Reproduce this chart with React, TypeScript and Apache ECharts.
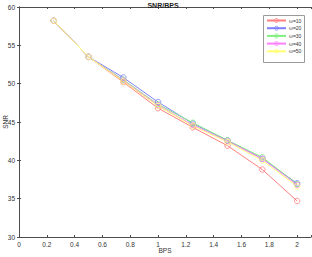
import React, { useEffect, useRef } from "react";
import * as echarts from "echarts";

const bps = [0.25, 0.5, 0.75, 1, 1.25, 1.5, 1.75, 2];
const seriesNames = ["ω=10", "ω=20", "ω=30", "ω=40", "ω=50"];
const snr10 = [58.2, 53.5, 50.2, 46.8, 44.3, 41.9, 38.8, 34.7];
const snr20 = [58.2, 53.5, 50.8, 47.6, 44.8, 42.6, 40.2, 37.0];
const snr30 = [58.2, 53.5, 50.5, 47.3, 44.9, 42.6, 40.4, 36.9];
const snr40 = [58.2, 53.5, 50.4, 47.2, 44.6, 42.5, 40.2, 36.8];
const snr50 = [58.2, 53.5, 50.3, 47.1, 44.5, 42.4, 40.0, 36.6];
const allSeries = [snr10, snr20, snr30, snr40, snr50];
const colors = ["#ff7f7f", "#7f7fff", "#7fef7f", "#ff7fff", "#ffff70"];

export default function App() {
  const ref = useRef<HTMLDivElement>(null);
  useEffect(() => {
    if (!ref.current) return;
    const chart = echarts.init(ref.current, null, { renderer: "svg" });
    const axisColor = "#4d4d4d";
    const font = "Liberation Sans, Arial, sans-serif";
    chart.setOption({
      animation: false,
      backgroundColor: "#ffffff",
      title: {
        text: "SNR/BPS",
        left: 158,
        top: -3,
        textAlign: "center",
        textStyle: { fontSize: 7, fontWeight: "bold", color: "#222", fontFamily: font },
      },
      grid: {
        left: 19,
        right: 1,
        top: 7,
        bottom: 20,
        containLabel: false,
        outerBoundsMode: "none",
      },
      graphic: [
        {
          type: "rect",
          z: 3,
          shape: { x: 263.5, y: 15.5, width: 41, height: 47 },
          style: { fill: "#ffffff", stroke: "#9a9a9a", lineWidth: 1 },
        },
      ],
      legend: {
        orient: "vertical",
        left: 264,
        top: 16,
        z: 5,
        data: seriesNames,
        itemWidth: 19,
        itemHeight: 5,
        itemGap: 2.7,
        padding: [2, 2, 2, 2],
        borderWidth: 0,
        itemStyle: { color: "rgba(255,255,255,0)", borderWidth: 0.8 },
        textStyle: { fontSize: 5, color: "#333", fontFamily: font, padding: [0, 0, 0, -2] },
      },
      xAxis: [
        {
          type: "value",
          min: 0,
          max: 2.1,
          interval: 0.2,
          name: "BPS",
          nameLocation: "middle",
          nameGap: 10,
          nameMoveOverlap: false,
          nameTextStyle: { fontSize: 6.5, color: "#333", fontFamily: font },
          axisLine: { show: true, lineStyle: { color: axisColor, width: 1 } },
          axisTick: { show: true, inside: true, length: 2, lineStyle: { color: axisColor } },
          axisLabel: {
            fontSize: 6.5,
            color: "#333",
            margin: 4,
            fontFamily: font,
            formatter: (v: number) => (v > 2.05 ? "" : String(Math.round(v * 10) / 10)),
          },
          splitLine: { show: false },
        },
        {
          type: "value",
          position: "top",
          min: 0,
          max: 2.1,
          interval: 0.2,
          axisLine: { show: true, lineStyle: { color: axisColor, width: 1 } },
          axisTick: { show: true, inside: true, length: 2, lineStyle: { color: axisColor } },
          axisLabel: { show: false },
          splitLine: { show: false },
        },
      ],
      yAxis: [
        {
          type: "value",
          min: 30,
          max: 60,
          interval: 5,
          name: "SNR",
          nameLocation: "middle",
          nameGap: 10,
          nameMoveOverlap: false,
          nameTextStyle: { fontSize: 6.5, color: "#333", fontFamily: font },
          axisLine: { show: true, lineStyle: { color: axisColor, width: 1 } },
          axisTick: { show: true, inside: true, length: 2, lineStyle: { color: axisColor } },
          axisLabel: { fontSize: 6.5, color: "#333", margin: 4, fontFamily: font },
          splitLine: { show: false },
        },
        {
          type: "value",
          position: "right",
          min: 30,
          max: 60,
          interval: 5,
          axisLine: { show: true, lineStyle: { color: axisColor, width: 1 } },
          axisTick: { show: true, inside: true, length: 2, lineStyle: { color: axisColor } },
          axisLabel: { show: false },
          splitLine: { show: false },
        },
      ],
      series: allSeries.map((vals, i) => ({
        name: seriesNames[i],
        type: "line",
        data: vals.map((v, j) => [bps[j], v]),
        symbol: "circle",
        symbolSize: 5.5,
        color: colors[i],
        lineStyle: { width: 1, color: colors[i] },
        itemStyle: { color: "rgba(255,255,255,0)", borderColor: colors[i], borderWidth: 0.8 },
      })),
    });
    return () => chart.dispose();
  }, []);
  return (
    <div
      ref={ref}
      style={{ position: "fixed", left: 0, top: 0, width: 312, height: 257 }}
    />
  );
}
